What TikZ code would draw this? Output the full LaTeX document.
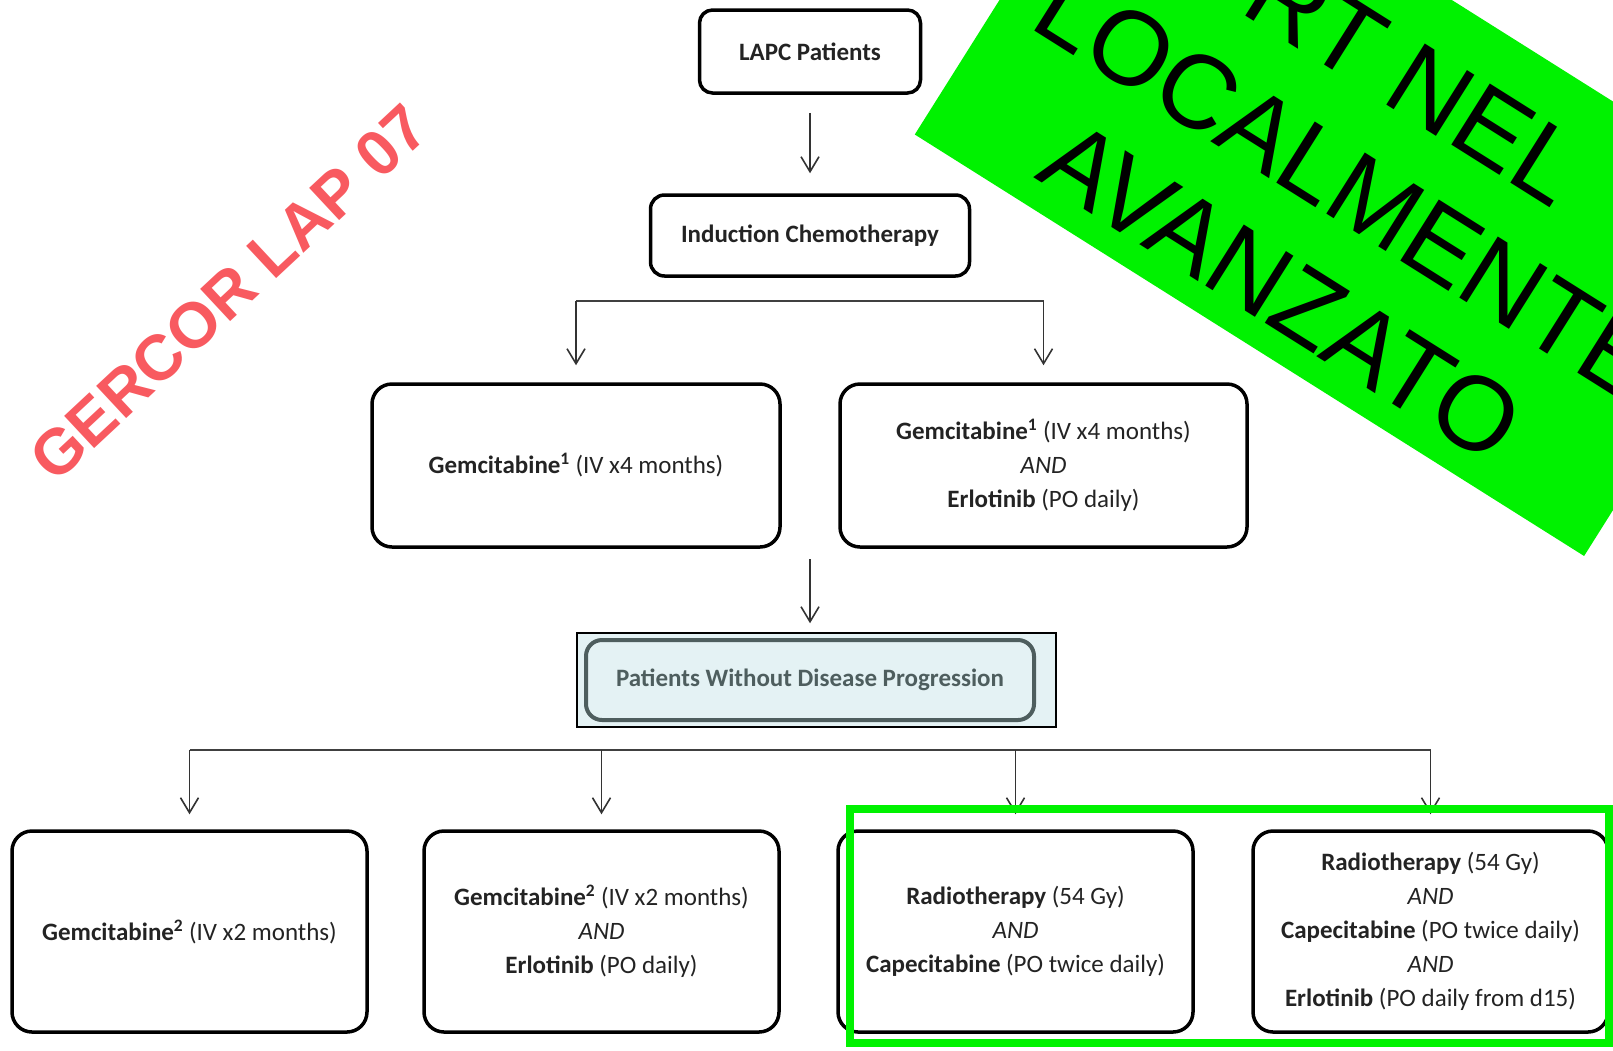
\documentclass[tikz,border=0pt]{standalone}
\usepackage{fontspec}
\setmainfont{Carlito}
\newfontfamily\arialfont{Liberation Sans}
\usetikzlibrary{arrows.meta,positioning}
\definecolor{ink}{HTML}{232323}
\definecolor{boxfill}{HTML}{E4F2F4}
\definecolor{boxedge}{HTML}{4E5E5E}
\definecolor{hilite}{HTML}{00F200}
\definecolor{stamp}{HTML}{F85A60}

\begin{document}
\begin{tikzpicture}[x=1pt,y=-1pt,
  box/.style={draw=black,line width=3.5pt,rounded corners=20pt,align=center,text=ink,
    font=\fontsize{25}{34}\selectfont,inner sep=0pt},
  regimen/.style={box,minimum width=355pt,minimum height=201pt},
  arr/.style={draw=black!80,line width=1.6pt,-{Straight Barb[length=15pt,width=18pt,line width=1.6pt]}},
  bar/.style={draw=black!75,line width=2.4pt}]
\useasboundingbox (0,0) rectangle (1613,1050);
\clip (0,0) rectangle (1613,1050);

\node[box,rounded corners=13pt,minimum width=221pt,minimum height=83pt] (lapc) at (810,51.5) {\bfseries LAPC Patients};
\node[box,rounded corners=14pt,minimum width=319pt,minimum height=81pt] (induct) at (810,235.5) {\bfseries Induction Chemotherapy};
\node[box,minimum width=408pt,minimum height=163pt] (gemA) at (576,465.5)
  {{\bfseries Gemcitabine\textsuperscript{1}} (IV x4 months)};
\node[box,minimum width=407pt,minimum height=163pt] (gemB) at (1043.5,465.5)
  {{\bfseries Gemcitabine\textsuperscript{1}} (IV x4 months)\\\textit{AND}\\{\bfseries Erlotinib} (PO daily)};
\node[draw=black,line width=1.5pt,fill=boxfill,minimum width=479pt,minimum height=94pt] (frame) at (816.5,680) {};
\node[draw=boxedge,line width=4pt,rounded corners=16pt,minimum width=448pt,minimum height=80pt,
  text=boxedge,font=\fontsize{25}{34}\selectfont] (pwdp) at (810,680) {\bfseries Patients Without Disease Progression};
\node[regimen] (regA) at (189.5,931.5) {{\bfseries Gemcitabine\textsuperscript{2}} (IV x2 months)};
\node[regimen] (regB) at (601.5,931.5)
  {{\bfseries Gemcitabine\textsuperscript{2}} (IV x2 months)\\\textit{AND}\\{\bfseries Erlotinib} (PO daily)};
\node[regimen] (regC) at (1015.5,931.5)
  {{\bfseries Radiotherapy} (54 Gy)\\\textit{AND}\\{\bfseries Capecitabine} (PO twice daily)};
\node[regimen] (regD) at (1430.5,931.5)
  {{\bfseries Radiotherapy} (54 Gy)\\\textit{AND}\\{\bfseries Capecitabine} (PO twice daily)\\\textit{AND}\\{\bfseries Erlotinib} (PO daily from d15)};

\coordinate (fork1) at (810,301);
\coordinate (mid) at (810,559);
\coordinate (fork2) at (810,750);

\draw[arr,shorten <=18pt,shorten >=20pt] (lapc.south) -- (induct.north);
\draw[bar] (gemA |- fork1) -- (gemB |- fork1);
\draw[arr,shorten >=17pt] (gemA |- fork1) -- (gemA.north);
\draw[arr,shorten >=17pt] (gemB |- fork1) -- (gemB.north);
\draw[arr,shorten >=9pt] (mid) -- (mid |- frame.north);
\draw[bar] (regA |- fork2) -- (regD |- fork2);
\foreach \n in {regA,regB,regC,regD}
  \draw[arr,shorten >=15pt] (\n |- fork2) -- (\n.north);

\draw[hilite,line width=8pt] (850,809) rectangle (1609,1043);
\node[fill=hilite,rotate=-32.2,minimum width=791pt,minimum height=400pt,inner sep=0pt] (banner) at (1356,176) {};
\node[rotate=-32.2,align=center,inner sep=0pt,font=\arialfont\fontsize{105}{125}\selectfont] (bannertext) at (1348,186)
  {RT NEL\\LOCALMENTE\\AVANZATO};
\node[rotate=43,text=stamp,inner sep=0pt,font=\arialfont\bfseries\fontsize{64}{64}\selectfont] (study) at (229,293) {GERCOR LAP 07};
\end{tikzpicture}
\end{document}
